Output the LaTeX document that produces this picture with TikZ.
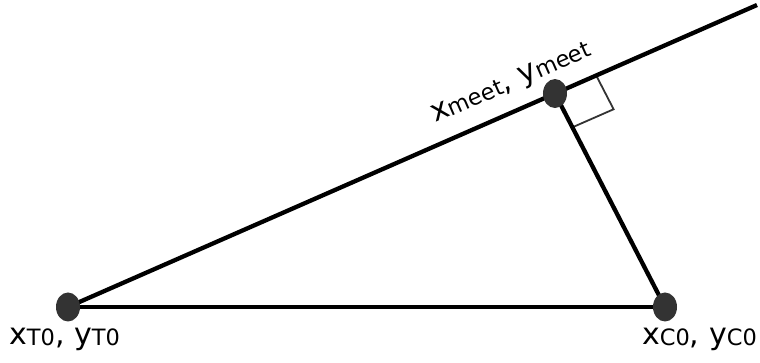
\documentclass[tikz,border=0pt]{standalone}
\usepackage{fontspec}
\setmainfont{DejaVu Sans}
\usetikzlibrary{calc,shapes.geometric}
\definecolor{dotgray}{HTML}{333333}
\newcommand{\sublbl}[1]{{\fontsize{22.5}{22.5}\selectfont\raisebox{-1pt}{#1}}}
\begin{document}
\begin{tikzpicture}[x=1pt,y=1pt,
  mainline/.style={line width=4.3pt},
  ptdot/.style={ellipse, fill=dotgray, minimum width=24pt, minimum height=29pt, inner sep=0pt},
  lbl/.style={font=\fontsize{30}{30}\selectfont, inner sep=0pt, anchor=base west},
  ranglemark/.style={draw=dotgray, line width=1.8pt}]
\useasboundingbox (0,0) rectangle (760,363);
\coordinate (T0) at (68,56);
\coordinate (C0) at (665,56);
\coordinate (E) at (757,358);
\coordinate (M) at ($(T0)!0.7068!(E)$);
% right-angle mark
\coordinate (Ra) at ($(M)!45pt!(E)$);
\coordinate (Rc) at ($(M)!38pt!(C0)$);
\coordinate (Rb) at ($(Ra)+(Rc)-(M)$);
\draw[ranglemark] (Ra) -- (Rb) -- (Rc);
% lines
\draw[mainline] (T0) -- (E);
\draw[mainline] (T0) -- (C0);
\draw[mainline] (C0) -- (M);
% dots
\node[ptdot] (dT) at (T0) {};
\node[ptdot] (dC) at (C0) {};
\node[ptdot] (dM) at (M) {};
% labels
\node[lbl] (lT) at (9,18) {x\sublbl{T0}, y\sublbl{T0}};
\node[lbl] (lC) at (642,18) {x\sublbl{C0}, y\sublbl{C0}};
\node[lbl, rotate=23.67] (lM) at (435,240) {x\sublbl{meet}, y\sublbl{meet}};
\end{tikzpicture}
\end{document}
